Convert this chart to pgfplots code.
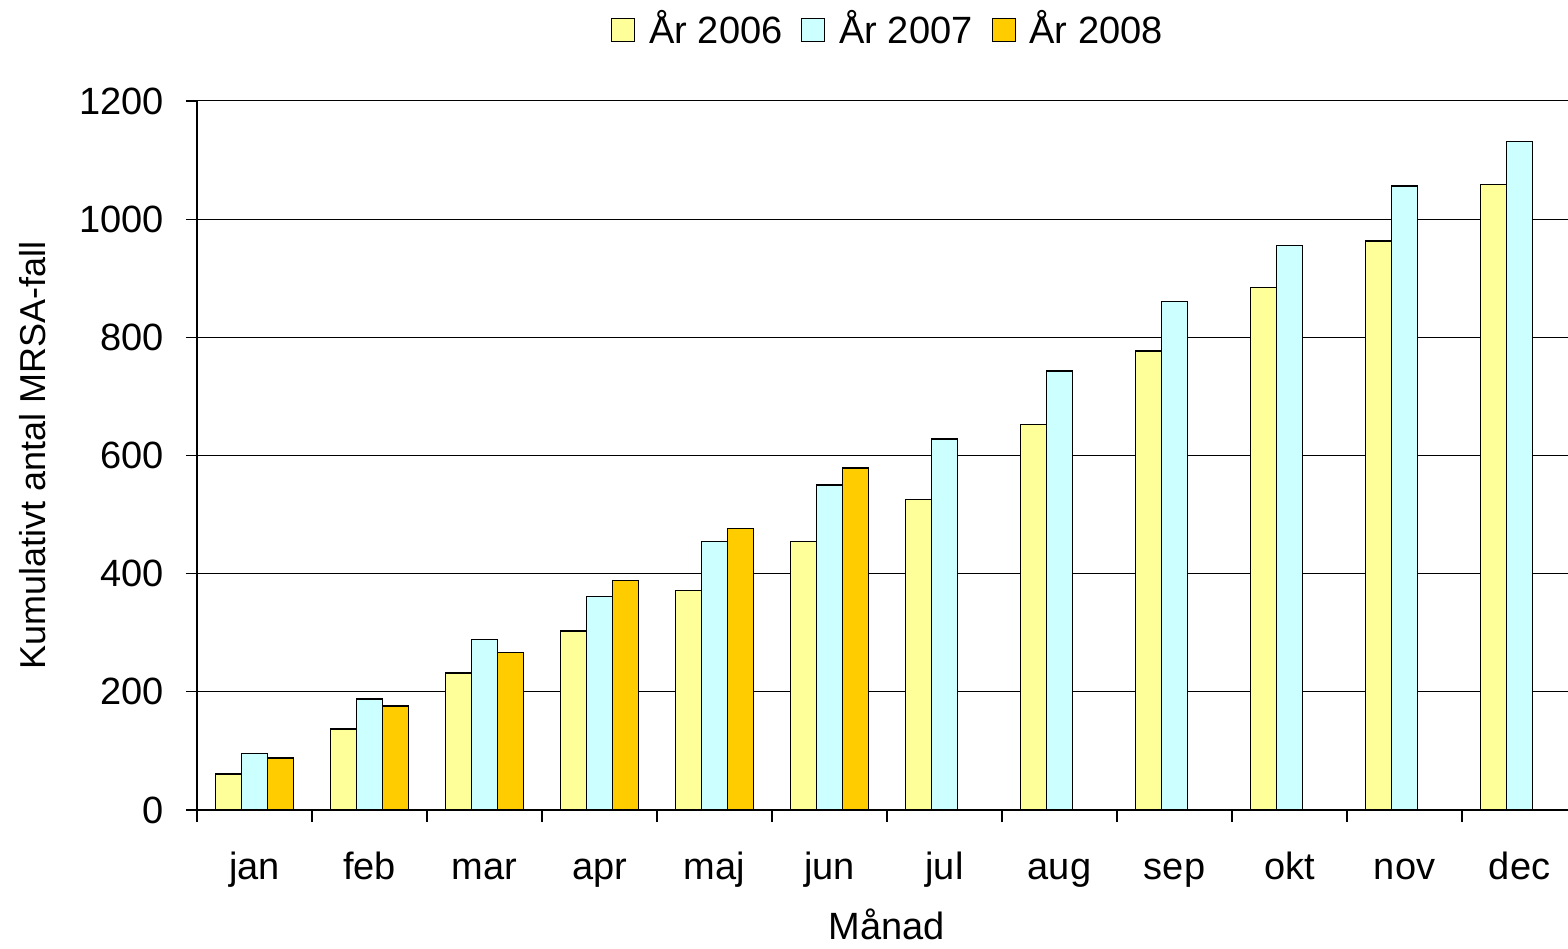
\documentclass[border=0pt]{standalone}
\usepackage{pgfplots}
\pgfplotsset{compat=1.18}
\usepackage{fontspec}
\setmainfont{Liberation Sans}
\definecolor{yr06}{HTML}{FFFF99}
\definecolor{yr07}{HTML}{CCFFFF}
\definecolor{yr08}{HTML}{FFCC00}
\begin{document}
\fontsize{19}{22}\selectfont
\begin{tikzpicture}
\begin{axis}[
    scale only axis,
    width=690pt, height=354.5pt,
    ybar=0pt, bar width=0.226,
    xmin=-0.5, xmax=11.5,
    ymin=0, ymax=1200,
    axis x line=bottom, axis y line=left,
    axis line style={-, black, line width=0.6pt},
    xtick={0,...,11},
    xticklabels={jan,feb,mar,apr,maj,jun,jul,aug,sep,okt,nov,dec},
    major x tick style={draw=none},
    minor xtick={-0.5,0.5,...,11.5},
    minor tick length=6pt,
    major tick length=5.5pt,
    tick align=outside,
    tick style={black, line width=0.6pt},
    ytick={0,200,...,1200},
    ymajorgrids=true,
    major grid style={black, line width=0.5pt},
    /pgf/number format/assume math mode=true,
    /pgf/number format/1000 sep={},
    ticklabel style={font=\fontsize{19}{22}\selectfont},
    xticklabel style={anchor=base, yshift=-29pt},
    yticklabel style={anchor=east, xshift=-4.5pt},
    xlabel={Månad},
    xlabel style={at={(axis description cs:0.5,0)}, anchor=center, yshift=-57pt,
        font=\fontsize{19}{22}\selectfont},
    ylabel={Kumulativt antal MRSA-fall},
    ylabel style={at={(axis description cs:-0.119,0.5)}, anchor=center,
        font=\fontsize{18}{21}\selectfont},
    legend image code/.code={\draw[#1, line width=0.5pt] (0pt,-5.75pt) rectangle (11.5pt,5.75pt);},
    legend style={at={(axis description cs:0.5,1)}, anchor=center, yshift=35.5pt,
        draw=none, fill=none, legend columns=-1, font=\fontsize{19}{22}\selectfont,
        nodes={inner sep=0pt},
        /tikz/every odd column/.append style={column sep=7pt},
        /tikz/every even column/.append style={column sep=9.5pt}},
]
\addplot[fill=yr06, draw=black, line width=0.6pt] coordinates {
    (0,61) (1,137) (2,232) (3,303) (4,372) (5,455)
    (6,526) (7,652) (8,777) (9,885) (10,963) (11,1059)};
\addlegendentry{År 2006}
\addplot[fill=yr07, draw=black, line width=0.6pt] coordinates {
    (0,95) (1,188) (2,289) (3,362) (4,455) (5,550)
    (6,628) (7,743) (8,861) (9,956) (10,1056) (11,1131)};
\addlegendentry{År 2007}
\addplot[fill=yr08, draw=black, line width=0.6pt] coordinates {
    (0,88) (1,176) (2,266) (3,388) (4,476) (5,579)};
\addlegendentry{År 2008}
\end{axis}
\pgfresetboundingbox
\useasboundingbox (-98.5pt,-69pt) rectangle (685.5pt,405pt);
\end{tikzpicture}
\end{document}
